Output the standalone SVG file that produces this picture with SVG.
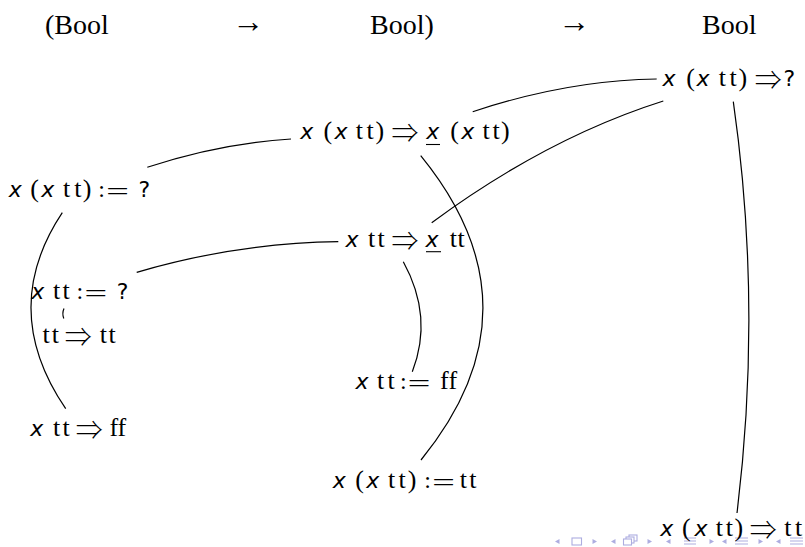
<svg xmlns="http://www.w3.org/2000/svg" width="805" height="547" viewBox="0 0 805 547">
<style>
.v{font-family:"DejaVu Sans",sans-serif;font-style:italic;font-size:22px}
.p{font-family:"Liberation Serif",serif;font-size:26px}
.t{font-family:"Liberation Serif",serif;font-size:26px}
.c{font-family:"Liberation Serif",serif;font-size:24px}
.a{font-family:"Noto Sans CJK JP","DejaVu Sans",sans-serif;font-weight:300;font-size:27px}
.e{font-family:"DejaVu Sans",sans-serif;font-weight:200;font-size:30px}
.q{font-family:"DejaVu Sans",sans-serif;font-size:22px}
.h{font-family:"Liberation Serif",serif;font-size:28px}
.ha{font-family:"Liberation Serif",serif;font-size:32px}
text{fill:#000}
.edge{fill:none;stroke:#000;stroke-width:1.2}
.ul{stroke:#000;stroke-width:1.1}
.nav{fill:#adade0;stroke:none}
.navs{fill:#fff;stroke:#adade0;stroke-width:1.1}
</style>
<rect width="805" height="547" fill="#fff"/>
<g id="header">
<text class="h" x="45" y="34">(Bool</text>
<text class="ha" x="232" y="32">→</text>
<text class="h" x="370" y="34">Bool)</text>
<text class="ha" x="558" y="32">→</text>
<text class="h" x="702" y="34">Bool</text>
</g>
<g id="nav">
<polygon class="nav" points="555,541.5 559.5,539 559.5,544"/>
<rect class="navs" x="572" y="538" width="9.5" height="7"/>
<polygon class="nav" points="597,541.5 592.5,539 592.5,544"/>
<polygon class="nav" points="611,541.5 615.5,539 615.5,544"/>
<rect class="navs" x="629" y="535" width="8" height="6"/>
<rect class="navs" x="626" y="537" width="8" height="6"/>
<rect class="navs" x="623.5" y="539" width="8" height="6"/>
<polygon class="nav" points="652,541.5 647.5,539 647.5,544"/>
<polygon class="nav" points="666,541.5 670.5,539 670.5,544"/>
<path class="navs" d="M684,538H696M684,541H696M684,544H696"/>
<polygon class="nav" points="714,541.5 709.5,539 709.5,544"/>
<polygon class="nav" points="722,541.5 726.5,539 726.5,544"/>
<path class="navs" d="M735,538H748M735,541H748M735,544H748"/>
<polygon class="nav" points="763,541.5 758.5,539 758.5,544"/>
<polygon class="nav" points="776,541.5 780.5,539 780.5,544"/>
<path class="navs" d="M790,538H803M790,541H803M790,544H803"/>
</g>
<g id="connectors">
<path class="edge" d="M656.7,79 Q568.6,80 472.7,111.7"/>
<path class="edge" d="M663.3,101 Q546.5,138 431.7,222.7"/>
<path class="edge" d="M733.3,101.7 Q762.5,305.5 737,513"/>
<path class="edge" d="M147.3,167.3 Q218.9,143.5 291,139"/>
<path class="edge" d="M420.7,155.7 Q545,308 421,460"/>
<path class="edge" d="M136.7,272.3 Q236.5,243 338.3,241.7"/>
<path class="edge" d="M403.3,261.7 Q433.6,316.7 412.3,371.7"/>
<path class="edge" d="M62.3,212.7 Q-2,309.3 65.7,408.7"/>
<path class="edge" d="M64,308.5 Q61.8,313.5 63.8,318.5"/>
</g>
<g id="n1">
<text><tspan class="v" x="662.5" y="86">x</tspan><tspan class="p" x="686.3" y="86">(</tspan><tspan class="v" x="696.5" y="86">x</tspan><tspan class="t" x="718.7 729.5" y="86">tt</tspan><tspan class="p" x="738.4" y="86">)</tspan><tspan class="a" x="754.7" y="90">⇒</tspan><tspan class="q" x="783.5" y="86">?</tspan></text>
</g>
<g id="n2">
<text><tspan class="v" x="300.2" y="139.3">x</tspan><tspan class="p" x="323.6" y="139.3">(</tspan><tspan class="v" x="334.5" y="139.3">x</tspan><tspan class="t" x="355.7 366.5" y="139.3">tt</tspan><tspan class="p" x="375.4" y="139.3">)</tspan><tspan class="a" x="391.4" y="143.3">⇒</tspan><tspan class="v" x="426.2" y="139.3">x</tspan><tspan class="p" x="450.3" y="139.3">(</tspan><tspan class="v" x="461.2" y="139.3">x</tspan><tspan class="t" x="482.4 492.5" y="139.3">tt</tspan><tspan class="p" x="501.1" y="139.3">)</tspan></text>
<line class="ul" x1="426" y1="144.5" x2="440" y2="144.5"/>
</g>
<g id="n3">
<text><tspan class="v" x="8.8" y="196.7">x</tspan><tspan class="p" x="30.3" y="196.7">(</tspan><tspan class="v" x="41.2" y="196.7">x</tspan><tspan class="t" x="63 74.2" y="196.7">tt</tspan><tspan class="p" x="82.7" y="196.7">)</tspan><tspan class="c" x="98.2" y="196.7">:</tspan><tspan class="e" x="104.9" y="200.7">=</tspan><tspan class="q" x="138.5" y="196.7">?</tspan></text>
</g>
<g id="n4">
<text><tspan class="v" x="345.5" y="247.3">x</tspan><tspan class="t" x="368 377.5" y="247.3">tt</tspan><tspan class="a" x="391.4" y="251.3">⇒</tspan><tspan class="v" x="425.5" y="247.3">x</tspan><tspan class="t" x="449.7 457.5" y="247.3">tt</tspan></text>
<line class="ul" x1="426" y1="251.7" x2="441" y2="251.7"/>
</g>
<g id="n5">
<text><tspan class="v" x="31.2" y="299.3">x</tspan><tspan class="t" x="53 62.5" y="299.3">tt</tspan><tspan class="c" x="76.5" y="299.3">:</tspan><tspan class="e" x="83.2" y="303.3">=</tspan><tspan class="q" x="116.8" y="299.3">?</tspan></text>
</g>
<g id="n6">
<text><tspan class="t" x="42.4 51.8" y="342.7">tt</tspan><tspan class="a" x="64.7" y="346.7">⇒</tspan><tspan class="t" x="99.7 108.5" y="342.7">tt</tspan></text>
</g>
<g id="n7">
<text><tspan class="v" x="355.5" y="389.3">x</tspan><tspan class="t" x="377 387.5" y="389.3">tt</tspan><tspan class="c" x="399.9" y="389.3">:</tspan><tspan class="e" x="406.6" y="393.3">=</tspan><tspan class="t" x="440 448.5" y="389.3">ff</tspan></text>
</g>
<g id="n8">
<text><tspan class="v" x="30.2" y="436">x</tspan><tspan class="t" x="53 62.5" y="436">tt</tspan><tspan class="a" x="75.7" y="440">⇒</tspan><tspan class="t" x="109.5 117.5" y="436">ff</tspan></text>
</g>
<g id="n9">
<text><tspan class="v" x="332.8" y="488.3">x</tspan><tspan class="p" x="355.3" y="488.3">(</tspan><tspan class="v" x="366.2" y="488.3">x</tspan><tspan class="t" x="388 398.5" y="488.3">tt</tspan><tspan class="p" x="407.7" y="488.3">)</tspan><tspan class="c" x="424.2" y="488.3">:</tspan><tspan class="e" x="430.9" y="492.3">=</tspan><tspan class="t" x="459.7 469.2" y="488.3">tt</tspan></text>
</g>
<g id="n10">
<text><tspan class="v" x="660.2" y="536">x</tspan><tspan class="p" x="681.9" y="536">(</tspan><tspan class="v" x="694.5" y="536">x</tspan><tspan class="t" x="715.7 725.8" y="536">tt</tspan><tspan class="p" x="734.4" y="536">)</tspan><tspan class="a" x="749.7" y="540">⇒</tspan><tspan class="t" x="784.3 795" y="536">tt</tspan></text>
</g>
</svg>
